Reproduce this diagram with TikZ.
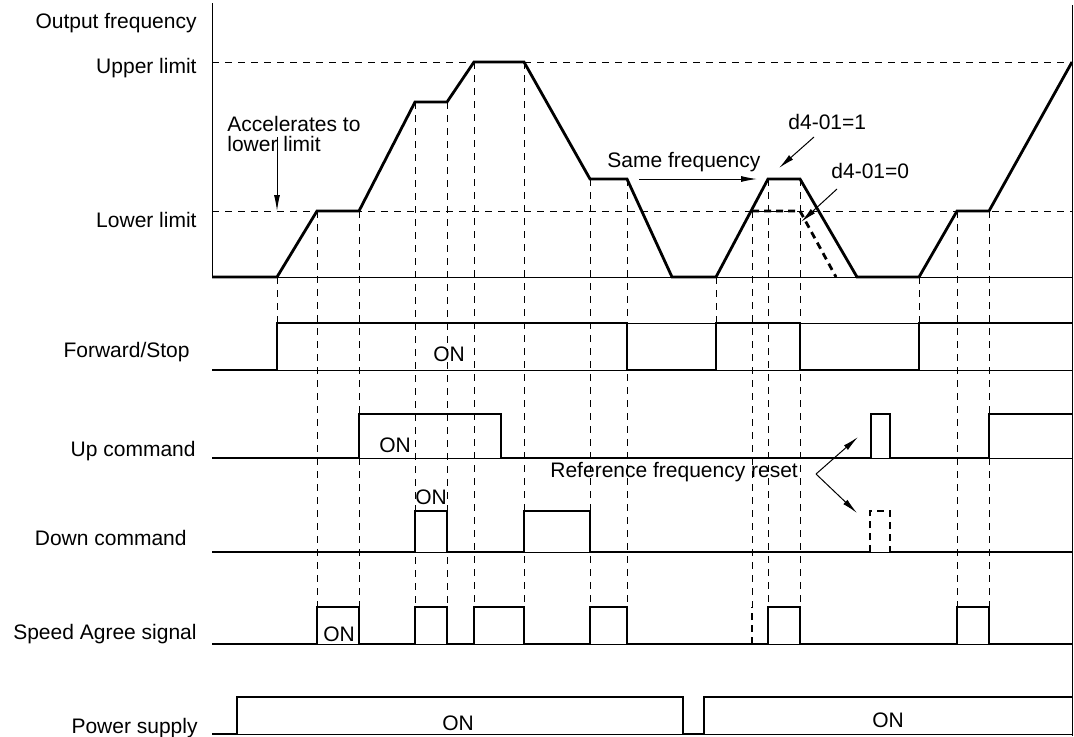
\documentclass[tikz,border=0pt]{standalone}
\usepackage{fontspec}
\setmainfont{Liberation Sans}
\usetikzlibrary{arrows.meta}

\begin{document}
\begin{tikzpicture}[
    x=0.5pt, y=-0.5pt,
    every node/.style={font=\fontsize{10.5}{9.85}\selectfont, inner sep=0pt},
    lbl/.style={anchor=base east},
    txt/.style={anchor=base west},
    sig/.style={line width=1.4pt},
    ref/.style={line width=0.5pt},
    grid/.style={line width=0.5pt, dash pattern=on 3.5pt off 3pt},
    alt/.style={line width=1.4pt, dash pattern=on 3.5pt off 2.5pt},
    note/.style={-{Latex[length=8pt, width=3pt]}, line width=0.5pt}
]
\useasboundingbox (0,0) rectangle (1074,736);

% row labels
\node[lbl] (lOut)   at (197,28)  {Output frequency};
\node[lbl] (lUpper) at (197,73)  {Upper limit};
\node[lbl] (lLower) at (197,227) {Lower limit};
\node[lbl] (lFwd)   at (190,357) {Forward/Stop};
\node[lbl] (lUp)    at (196,456) {Up command};
\node[lbl] (lDown)  at (187,545) {Down command};
\node[lbl] (lAgree) at (197,639) {Speed Agree signal};
\node[lbl] (lPower) at (198,733) {Power supply};

% axes and limits
\draw[ref] (212,3) -- (212,277);
\draw[ref] (1072,5) -- (1072,736);
\draw[ref] (212,277) -- (1072,277);
\draw[grid] (212,62) -- (1072,62) (212,211) -- (1072,211);

% timing lines
\draw[grid] (277,277) -- (277,323) (716,277) -- (716,323) (919,277) -- (919,323)
    (317,211) -- (317,607) (359,211) -- (359,607) (415,102) -- (415,607)
    (447,102) -- (447,607) (474,62) -- (474,607) (524,62) -- (524,607)
    (590,179) -- (590,607) (627,179) -- (627,607) (752,211) -- (752,607)
    (768,179) -- (768,607) (800,179) -- (800,607) (957,211) -- (957,607)
    (989,211) -- (989,607);

% output frequency
\draw[sig] (212,277) -- (277,277) -- (317,211) -- (359,211) -- (415,102) -- (447,102)
    -- (474,62) -- (524,62) -- (590,179) -- (627,179) -- (672,277) -- (716,277)
    -- (768,179) -- (800,179) -- (857,277) -- (919,277) -- (957,211) -- (989,211)
    -- (1072,62);
\draw[alt] (752,211) -- (800,211) -- (836,277);

% Forward/Stop
\draw[ref] (277,323) -- (1072,323) (212,370) -- (1072,370);
\draw[sig] (212,370) -- (277,370) -- (277,323) -- (627,323) -- (627,370) -- (716,370)
    -- (716,323) -- (800,323) -- (800,370) -- (919,370) -- (919,323) -- (1072,323);
\node[anchor=base] (onFwd) at (449,361) {ON};

% Up command
\draw[ref] (212,458) -- (1072,458);
\draw[sig] (212,458) -- (359,458) -- (359,414) -- (501,414) -- (501,458) -- (871,458)
    -- (871,414) -- (890,414) -- (890,458) -- (989,458) -- (989,414) -- (1072,414);
\node[anchor=base] (onUp) at (395,452) {ON};

% Down command
\draw[ref] (212,552) -- (1072,552);
\draw[sig] (212,552) -- (415,552) -- (415,511) -- (447,511) -- (447,552) -- (524,552)
    -- (524,511) -- (590,511) -- (590,552) -- (870,552);
\draw[sig] (890,552) -- (1072,552);
\draw[alt] (870,552) -- (870,511) -- (890,511) -- (890,552);
\node[anchor=base] (onDown) at (431,504) {ON};

% Speed Agree signal
\draw[ref] (212,644) -- (1072,644);
\draw[sig] (212,644) -- (317,644) -- (317,607) -- (359,607) -- (359,644) -- (415,644)
    -- (415,607) -- (447,607) -- (447,644) -- (474,644) -- (474,607) -- (524,607)
    -- (524,644) -- (590,644) -- (590,607) -- (627,607) -- (627,644) -- (768,644)
    -- (768,607) -- (800,607) -- (800,644) -- (957,644) -- (957,607) -- (989,607)
    -- (989,644) -- (1072,644);
\draw[alt] (752,644) -- (752,607);
\node[anchor=base] (onAgree) at (339,641) {ON};

% Power supply
\draw[ref] (212,734) -- (1072,734);
\draw[sig] (212,734) -- (237,734) -- (237,697) -- (683,697) -- (683,734) -- (704,734)
    -- (704,697) -- (1072,697);
\node[anchor=base] (onPow1) at (458,730) {ON};
\node[anchor=base] (onPow2) at (888,727) {ON};

% notes
\node[anchor=north west, align=left] (accNote) at (227,116) {Accelerates to\\lower limit};
\coordinate (accFrom) at (277,137);
\coordinate (accTo) at (277,211);
\draw[note] (accFrom) -- (accTo);

\node[txt] (sameNote) at (607,167) {Same frequency};
\coordinate (sameFrom) at (639,179);
\coordinate (sameTo) at (757,179);
\draw[note] (sameFrom) -- (sameTo);

\node[txt] (d1Note) at (788,129) {d4-01=1};
\coordinate (d1From) at (814,137);
\coordinate (d1To) at (779,168);
\draw[note] (d1From) -- (d1To);

\node[txt] (d0Note) at (831,178) {d4-01=0};
\coordinate (d0From) at (837,189);
\coordinate (d0To) at (801,222);
\draw[note] (d0From) -- (d0To);

\node[txt] (resetNote) at (550,477) {Reference frequency reset};
\coordinate (resetFrom) at (816,474);
\coordinate (resetUp) at (858,437);
\coordinate (resetDown) at (857,513);
\draw[note] (resetFrom) -- (resetUp);
\draw[note] (resetFrom) -- (resetDown);

\end{tikzpicture}
\end{document}
